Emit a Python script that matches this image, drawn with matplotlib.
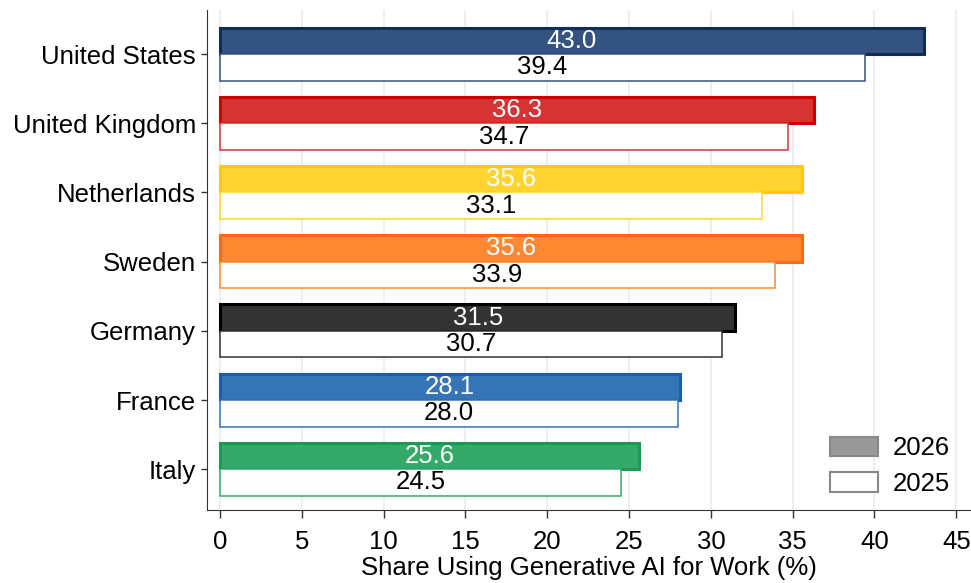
import matplotlib
matplotlib.use("Agg")
import matplotlib.pyplot as plt
from matplotlib.patches import Patch
import numpy as np

plt.rcParams['font.family'] = ['Liberation Sans', 'DejaVu Sans']

countries = ["United States", "United Kingdom", "Netherlands", "Sweden", "Germany", "France", "Italy"]
vals_2026 = [43.0, 36.3, 35.6, 35.6, 31.5, 28.1, 25.6]
vals_2025 = [39.4, 34.7, 33.1, 33.9, 30.7, 28.0, 24.5]
fills = ["#35537F", "#D63434", "#FFD42F", "#FF8833", "#333333", "#3575B5", "#35A96A"]
edges = ["#0F2C5D", "#CC0000", "#FFC800", "#FF6A0A", "#000000", "#1A5EA8", "#1E9955"]
xticks = [0, 5, 10, 15, 20, 25, 30, 35, 40, 45]

FS = 18.5
fig = plt.figure(figsize=(9.71, 5.83), dpi=100)
ax = fig.add_axes([0.2132, 0.1252, 0.7868, 0.858])

n = len(countries)
y = np.arange(n)[::-1].astype(float)
h = 0.383
for i in range(n):
    ax.barh(y[i] + h/2, vals_2026[i], height=h, color=fills[i], edgecolor=edges[i], linewidth=2.2, zorder=3)
    ax.barh(y[i] - h/2, vals_2025[i], height=h, color="white", edgecolor=fills[i], linewidth=1.1, zorder=3)
    ax.text(vals_2026[i]/2, y[i] + h/2, f"{vals_2026[i]:.1f}", ha="center", va="center", color="white", fontsize=FS, zorder=4)
    ax.text(vals_2025[i]/2, y[i] - h/2, f"{vals_2025[i]:.1f}", ha="center", va="center", color="black", fontsize=FS, zorder=4)

ax.set_yticks(y)
ax.set_yticklabels(countries, fontsize=FS)
ax.set_xticks(xticks)
ax.set_xticklabels([str(t) for t in xticks], fontsize=FS)
ax.set_xlim(-0.8, 45.9)
ax.set_ylim(y[-1] - 0.59, y[0] + 0.64)
ax.grid(axis="x", color="#EBEBEB", linewidth=1.2, zorder=0)
ax.set_axisbelow(True)
for s in ["top", "right"]:
    ax.spines[s].set_visible(False)
ax.spines["left"].set_color("#333333")
ax.spines["bottom"].set_color("#333333")
ax.tick_params(axis="both", direction="out", color="#333333", width=1)
ax.tick_params(axis="x", length=6, pad=8.5)
ax.tick_params(axis="y", length=4.5, pad=3.5)
ax.set_xlabel("Share Using Generative AI for Work (%)", fontsize=FS, labelpad=1)

handles = [Patch(facecolor="#999999", edgecolor="#888888", linewidth=1.5, label="2026"),
           Patch(facecolor="white", edgecolor="#888888", linewidth=1.5, label="2025")]
ax.legend(handles=handles, loc="lower right", frameon=False, fontsize=FS,
          handlelength=1.83, handleheight=0.8, handletextpad=0.6,
          bbox_to_anchor=(1.003, -0.018), labelspacing=0.45)

fig.savefig("out.png", dpi=100)
